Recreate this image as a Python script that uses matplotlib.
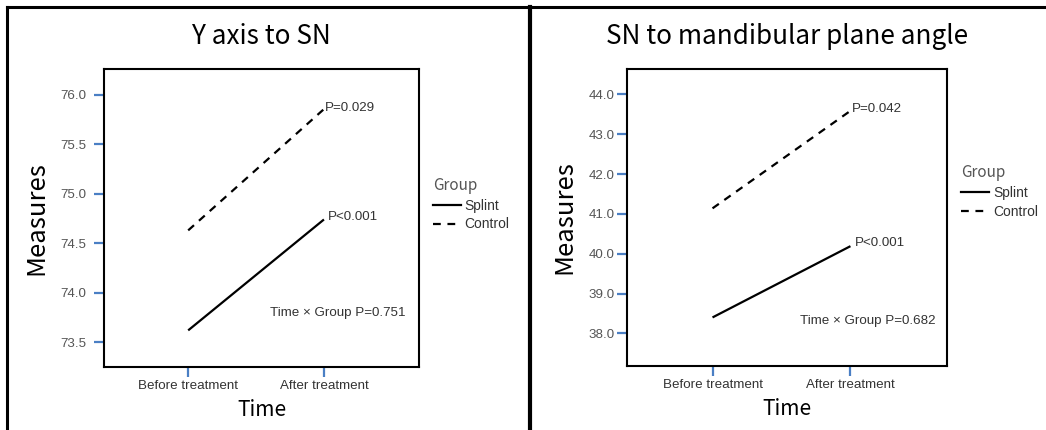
import matplotlib
matplotlib.use("Agg")
import matplotlib.pyplot as plt
from matplotlib.lines import Line2D

# Data
time_labels = ["Before treatment", "After treatment"]
groups = ["Splint", "Control"]

y_sn_splint = [73.62, 74.74]
y_sn_control = [74.63, 75.855]
y_sn_p = ["P<0.001", "P=0.029"]
y_sn_inter = "Time \u00d7 Group P=0.751"
y_sn_ticks = [73.5, 74.0, 74.5, 75.0, 75.5, 76.0]

mp_splint = [38.40, 40.19]
mp_control = [41.14, 43.59]
mp_p = ["P<0.001", "P=0.042"]
mp_inter = "Time \u00d7 Group P=0.682"
mp_ticks = [38.0, 39.0, 40.0, 41.0, 42.0, 43.0, 44.0]

TITLE_FONT = ["Noto Sans CJK KR", "DejaVu Sans"]
NARROW_FONT = ["Liberation Sans", "DejaVu Sans"]
TICK_BLUE = "#4a7fc4"
GREY = "#555555"
DARK = "#333333"
DASH = (0, (3.5, 3.0))


def draw_panel(ax, title, splint, control, p_labels, inter, yticks, ylim, ypad, inter_pos, leg_y):
    x = [0, 1]
    ax.plot(x, splint, color="black", lw=1.6, solid_capstyle="butt")
    ax.plot(x, control, color="black", lw=1.6, linestyle=DASH)

    ax.set_xlim(-0.62, 1.70)
    ax.set_ylim(*ylim)
    ax.set_xticks(x)
    ax.set_xticklabels(time_labels, family=NARROW_FONT, fontsize=9.6, color=DARK)
    ax.set_yticks(yticks)
    ax.set_yticklabels(["{:.1f}".format(v) for v in yticks], family=NARROW_FONT,
                       fontsize=9.6, color=GREY)
    ax.tick_params(axis="both", direction="out", length=7.2, width=1.6, color=TICK_BLUE)
    ax.tick_params(axis="y", pad=ypad)
    ax.tick_params(axis="x", pad=2)
    for sp in ax.spines.values():
        sp.set_linewidth(1.5)
        sp.set_color("black")

    # p-values at the end of each line
    ax.annotate(p_labels[1], (1, control[1]), xytext=(1, 1), textcoords="offset points",
                ha="left", va="center", family=NARROW_FONT, fontsize=9.6, color=DARK)
    ax.annotate(p_labels[0], (1, splint[1]), xytext=(3, 2), textcoords="offset points",
                ha="left", va="center", family=NARROW_FONT, fontsize=9.6, color=DARK)
    ax.text(inter_pos[0], inter_pos[1], inter, transform=ax.transAxes, ha="right", va="center",
            family=NARROW_FONT, fontsize=9.6, color=DARK)

    ax.set_title(title, family=TITLE_FONT, fontsize=18.8, pad=18)
    ax.set_ylabel("Measures", family=TITLE_FONT, fontsize=18.5, labelpad=8)
    ax.set_xlabel("Time", family=TITLE_FONT, fontsize=15, labelpad=5)

    handles = [Line2D([], [], color="black", lw=1.6),
               Line2D([], [], color="black", lw=1.6, linestyle=DASH)]
    leg = ax.legend(handles, groups, title="Group", loc="upper left",
                    bbox_to_anchor=(1.035, leg_y), frameon=False, handlelength=2.0,
                    handletextpad=0.3, labelspacing=0.35, borderpad=0.2, borderaxespad=0.0,
                    prop={"family": NARROW_FONT, "size": 10})
    leg.get_title().set_fontfamily(TITLE_FONT)
    leg.get_title().set_fontsize(11)
    leg.get_title().set_color(GREY)
    leg._legend_box.align = "left"
    for t in leg.get_texts():
        t.set_color(DARK)


fig = plt.figure(figsize=(10.46, 4.30), dpi=100)

ax1 = fig.add_axes([104 / 1046, 63 / 430, 315 / 1046, 298 / 430])
draw_panel(ax1, "Y axis to SN", y_sn_splint, y_sn_control, y_sn_p, y_sn_inter,
           y_sn_ticks, (73.25, 76.26), 5.5, (0.956, 0.181), 0.648)

ax2 = fig.add_axes([627 / 1046, 64 / 430, 320 / 1046, 297 / 430])
draw_panel(ax2, "SN to mandibular plane angle", mp_splint, mp_control, mp_p, mp_inter,
           mp_ticks, (37.18, 44.64), 2.0, (0.963, 0.152), 0.688)

# outer frame lines
fig.add_artist(Line2D([7 / 1046, 1.0], [1 - 7 / 430, 1 - 7 / 430], color="black", lw=2.2,
                      transform=fig.transFigure))
fig.add_artist(Line2D([7 / 1046, 7 / 1046], [0, 1 - 7 / 430], color="black", lw=2.2,
                      transform=fig.transFigure))
fig.add_artist(Line2D([530 / 1046, 530 / 1046], [0, 1 - 7 / 430], color="black", lw=3.0,
                      transform=fig.transFigure))

fig.savefig("out.png", dpi=100)
